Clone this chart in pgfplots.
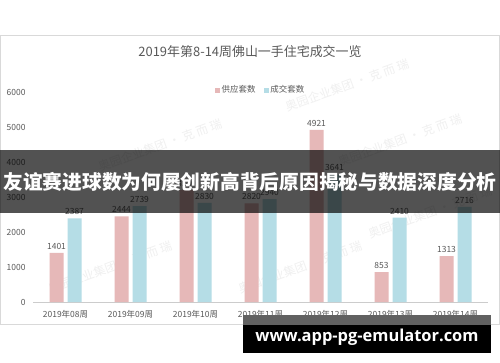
\documentclass[border=0pt]{standalone}
\usepackage{fontspec}
\setmainfont{Noto Sans CJK SC}
\newfontfamily\opensans{Open Sans}
\usepackage{pgfplots}
\pgfplotsset{compat=1.18}
\definecolor{supply}{HTML}{E6B8B8}
\definecolor{deal}{HTML}{B5DDE6}
\definecolor{txt}{HTML}{595959}
\begin{document}
\begin{tikzpicture}[x=1bp,y=1bp]
\path[use as bounding box] (0,0) rectangle (500,362);
\fill[white] (0,0) rectangle (500,362);
\draw[color=black!15, line width=0.8bp] (0.5,38) rectangle (499.5,327);
\node[text=txt, font=\fontsize{13}{15}\selectfont] at (250,310) {2019年第8-14周佛山一手住宅成交一览};
% faint watermarks
\foreach \px/\py in {347/277, 160/217, 400/222, 300/95, 110/95, 430/150}{
  \node[text=black!6, rotate=20, font=\fontsize{12}{14}\selectfont] at (\px,\py) {奥园企业集团 · 克 而 瑞};
}
\begin{axis}[
  at={(33bp,60bp)}, anchor=south west, scale only axis,
  width=455bp, height=210bp,
  xmin=-0.5, xmax=6.5, ymin=0, ymax=6000,
  axis x line*=bottom, axis y line*=left,
  y axis line style={draw=none},
  x axis line style={draw=black!20, line width=0.8bp},
  xtick={0,...,6},
  xticklabels={2019年08周,2019年09周,2019年10周,2019年11周,2019年12周,2019年13周,2019年14周},
  ytick={0,1000,...,6000},
  tick style={draw=none},
  ticklabel style={text=txt, font=\fontsize{8.5}{10}\selectfont},
  /pgf/number format/assume math mode=true,
  /pgf/number format/1000 sep={},
  yticklabel style={xshift=-4bp},
  xticklabel style={yshift=-1bp},
  ybar, bar width=14bp,
  nodes near coords,
  nodes near coords style={text=txt, font=\fontsize{8.5}{10}\selectfont, /pgf/number format/1000 sep={}, /pgf/number format/assume math mode=true},
  legend style={at={(0.5,1)}, anchor=center, yshift=2bp, draw=none, fill=none,
    legend columns=2, font=\fontsize{8.5}{10}\selectfont, text=txt,
    /tikz/every even column/.append style={column sep=6bp}},
  legend image code/.code={\fill[#1,draw=none] (0bp,-2.5bp) rectangle (5bp,2.5bp);},
]
\addplot[fill=supply, draw=none, bar shift=-9bp] coordinates {(0,1401) (1,2444) (2,3200) (3,2820) (4,4921) (5,853) (6,1313)};
\addlegendentry{供应套数}
\addplot[fill=deal, draw=none, bar shift=9bp] coordinates {(0,2387) (1,2739) (2,2830) (3,2940) (4,3641) (5,2410) (6,2716)};
\addlegendentry{成交套数}
\end{axis}
% banner
\fill[black, opacity=0.68] (0,149) rectangle (500,212);
\node[text=white, font=\fontsize{19.8}{22}\selectfont\bfseries, inner sep=0pt] at (250,180) {友谊赛进球数为何屡创新高背后原因揭秘与数据深度分析};
% bottom box
\fill[black!62] (243,37) rectangle (491,47);
\fill[black] (243,9) rectangle (491,37);
\node[text=white, font=\opensans\fontsize{16.5}{18}\selectfont\bfseries, inner sep=0pt] at (367,25) {www.app-pg-emulator.com};
\end{tikzpicture}
\end{document}
